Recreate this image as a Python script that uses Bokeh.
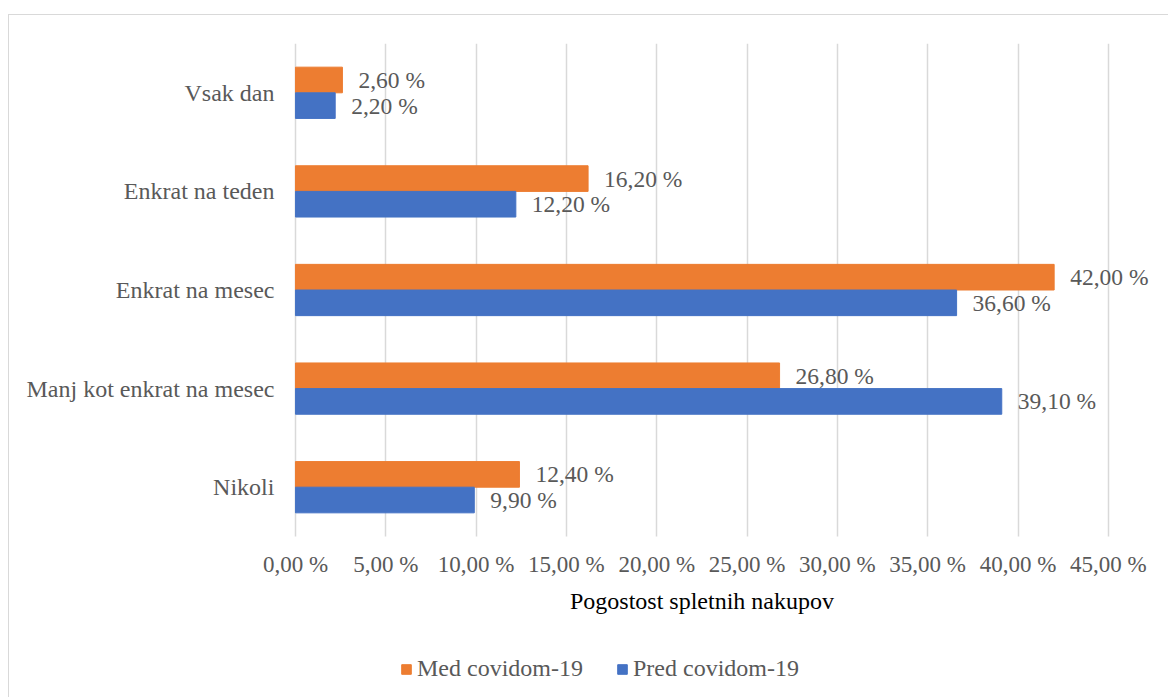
from bokeh.plotting import figure
from bokeh.models import (Range1d, ColumnDataSource, FixedTicker,
                          CustomJSTickFormatter, Legend, LegendItem)
from bokeh.transform import dodge
from bokeh.core.properties import value
from bokeh.embed import file_html
from bokeh.resources import INLINE

categories = ["Vsak dan", "Enkrat na teden", "Enkrat na mesec",
              "Manj kot enkrat na mesec", "Nikoli"]
med_covid = [2.6, 16.2, 42.0, 26.8, 12.4]
pred_covid = [2.2, 12.2, 36.6, 39.1, 9.9]
x_ticks = [0, 5, 10, 15, 20, 25, 30, 35, 40, 45]
series_names = ["Med covidom-19", "Pred covidom-19"]
axis_title = "Pogostost spletnih nakupov"

ORANGE = "#ED7D31"
BLUE = "#4472C4"
GREY_TXT = "#595959"
GRID = "#D9D9D9"
FONT = "'Liberation Serif', 'Times New Roman', 'DejaVu Serif', serif"

n = len(categories)
ypos = [n - 1 - i for i in range(n)]   # top category highest


def fmt(v):
    return f"{v:.2f}".replace(".", ",") + " %"


src = ColumnDataSource(dict(
    y=ypos,
    med=med_covid,
    pred=pred_covid,
    med_lbl=[fmt(v) for v in med_covid],
    pred_lbl=[fmt(v) for v in pred_covid],
))

# frame spans the whole figure horizontally from its left edge; value 0 sits at x=295
p = figure(width=1160, height=683,
           x_range=Range1d(-15.83, 47.5),
           y_range=Range1d(-2.143, n - 0.5),
           output_backend="svg", toolbar_location=None,
           min_border_left=0, min_border_right=16,
           min_border_top=28, min_border_bottom=0)
p.styles = {"margin-left": "8px", "margin-top": "14px",
            "border-left": "1px solid #D9D9D9",
            "border-top": "1px solid #D9D9D9"}
p.outline_line_color = None
p.background_fill_color = "white"
p.border_fill_color = "white"

# grid (vertical lines only across the category band)
p.ygrid.grid_line_color = None
xg = p.xgrid[0]
if "cross_bounds" in xg.properties():
    xg.grid_line_color = GRID
    xg.grid_line_width = 1.5
    xg.cross_bounds = (-0.5, n - 0.5)
else:
    xg.grid_line_color = None
    p.segment(x0=x_ticks, x1=x_ticks, y0=[-0.5] * len(x_ticks),
              y1=[n - 0.5] * len(x_ticks), line_color=GRID, line_width=1.5)

r_med = p.hbar(y=dodge("y", 0.13), left=0, right="med",
               height=0.26, color=ORANGE, source=src)
r_pred = p.hbar(y=dodge("y", -0.13), left=0, right="pred",
                height=0.26, color=BLUE, source=src)

p.text(x="med", y=dodge("y", 0.13), text="med_lbl",
       x_offset=16, text_align="left", text_baseline="middle",
       text_font=value(FONT), text_font_size="23.5px", text_color=GREY_TXT,
       source=src)
p.text(x="pred", y=dodge("y", -0.13), text="pred_lbl",
       x_offset=16, text_align="left", text_baseline="middle",
       text_font=value(FONT), text_font_size="23.5px", text_color=GREY_TXT,
       source=src)

# x axis, drawn at the bottom of the category band
xa = p.xaxis[0]
xa.fixed_location = -0.5
xa.bounds = (x_ticks[0], x_ticks[-1])
xa.ticker = FixedTicker(ticks=x_ticks)
xa.formatter = CustomJSTickFormatter(
    code="return tick.toFixed(2).replace('.', ',') + ' %';")
xa.axis_line_color = None
xa.major_tick_line_color = None
xa.minor_tick_line_color = None
xa.major_tick_out = 0
xa.major_tick_in = 0
xa.major_label_standoff = 15
xa.major_label_text_font = FONT
xa.major_label_text_font_size = "23px"
xa.major_label_text_color = GREY_TXT
xa.axis_label = axis_title
xa.axis_label_text_font = FONT
xa.axis_label_text_font_size = "24px"
xa.axis_label_text_font_style = "normal"
xa.axis_label_text_color = "black"
xa.axis_label_standoff = 8

# y axis with category names, drawn at value 0
ya = p.yaxis[0]
ya.fixed_location = 0
ya.bounds = (-0.5, n - 0.5)
ya.ticker = FixedTicker(ticks=ypos)
ya.major_label_overrides = {y: c for y, c in zip(ypos, categories)}
ya.axis_line_color = None
ya.major_tick_line_color = None
ya.minor_tick_line_color = None
ya.major_tick_out = 0
ya.major_tick_in = 0
ya.major_label_standoff = 21
ya.major_label_text_font = FONT
ya.major_label_text_font_size = "24px"
ya.major_label_text_color = GREY_TXT

legend = Legend(items=[LegendItem(label=series_names[0], renderers=[r_med]),
                       LegendItem(label=series_names[1], renderers=[r_pred])],
                location=(391, 16), orientation="horizontal",
                glyph_width=12, glyph_height=12, label_standoff=5,
                spacing=33, padding=0, margin=0,
                border_line_color=None, background_fill_alpha=0,
                label_text_font=FONT, label_text_font_size="24px",
                label_text_color=GREY_TXT)
p.add_layout(legend, "center")

open("out.html", "w").write(file_html(p, INLINE))
